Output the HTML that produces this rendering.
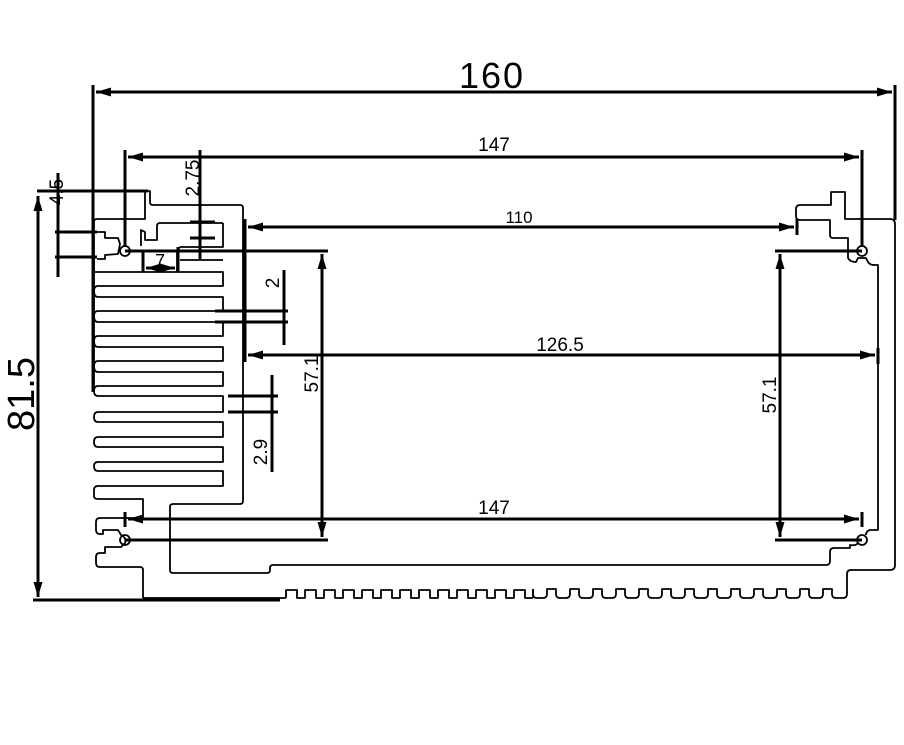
<!DOCTYPE html>
<html><head><meta charset="utf-8"><style>
html,body{margin:0;padding:0;background:#fff;}
svg{display:block}
text{font-family:"Liberation Sans",sans-serif;fill:#000}
</style></head><body>
<svg width="904" height="745" viewBox="0 0 904 745" xmlns="http://www.w3.org/2000/svg">
<defs>
<marker id="a" viewBox="0 0 10 6" refX="10" refY="3" markerWidth="5" markerHeight="3" orient="auto-start-reverse"><path d="M0,0L10,3L0,6z" fill="#000"/></marker>
</defs>
<g fill="none" stroke="#000" stroke-width="1.8" stroke-linejoin="round">
<path d="M94,392 V222 Q94,219 97,219 H145 V191 H150 V202 Q150,205 153,205 H240 Q243,205 243,208 V501 Q243,504 240,504 H173 Q170,504 170,507 V570 Q170,573 173,573 H267 Q270,573 270,570 V568 Q270,565 273,565 H826 Q830,565 830,561 V552 Q830,548 834,548 H850 V545 Q856,546 858,543"/>
<path d="M223,223 H160 Q157,223 157,226 V240 H145 V232 L141,230 L141,246"/>
<path d="M223,223 V247 H180 L177,251 V272"/>
<path d="M180,260 H223"/>
<path d="M97,232 H105 V238 H118 L120,244 L118,254 L105,255 V259 H97"/>
<path d="M94,259 V272 H223 V286 H98 Q94,286 94,291 Q94,297 98,297 H223 V311 H98 Q94,311 94,316 Q94,322 98,322 H223 V336 H98 Q94,336 94,341 Q94,347 98,347 H223 V361 H98 Q94,361 94,366 Q94,372 98,372 H223 V386 H98 Q94,386 94,391 Q94,396 98,396 H223 V412 H98 Q94,412 94,417 Q94,422 98,422 H223 V437 H98 Q94,437 94,442 Q94,447 98,447 H223 V462 H98 Q94,462 94,466 Q94,471 98,471 H223 V486 H98 Q94,486 94,490 V496 Q94,499 98,499 H143 V518"/>
<path d="M143,518 H100 Q96,518 96,522 V530 Q96,534 100,534 H103 V530 H118 L121,535 Q127,538 125,543 L121,547 H105 V553 H100 Q96,553 96,557 V563 Q96,567 100,567 H140 Q143,567 143,570 V598"/>
<path d="M143,598 H286"/>
<path d="M286,598 V590 H297 V598 H305 V590 H316 V598 H324 V590 H335 V598 H343 V590 H354 V598 H362 V590 H373 V598 H381 V590 H392 V598 H400 V590 H411 V598 H419 V590 H430 V598 H438 V590 H449 V598 H457 V590 H468 V598 H476 V590 H487 V598 H495 V590 H506 V598 H514 V590 H525 V598 H533"/>
<path d="M533,589 V594 Q533,598 537,598 H543 Q547,598 547,594 V589 H556 V594 Q556,598 560,598 H566 Q570,598 570,594 V589 H579 V594 Q579,598 583,598 H589 Q593,598 593,594 V589 H602 V594 Q602,598 606,598 H612 Q616,598 616,594 V589 H625 V594 Q625,598 629,598 H635 Q639,598 639,594 V589 H648 V594 Q648,598 652,598 H658 Q662,598 662,594 V589 H671 V594 Q671,598 675,598 H681 Q685,598 685,594 V589 H694 V594 Q694,598 698,598 H704 Q708,598 708,594 V589 H717 V594 Q717,598 721,598 H727 Q731,598 731,594 V589 H740 V594 Q740,598 744,598 H750 Q754,598 754,594 V589 H763 V594 Q763,598 767,598 H773 Q777,598 777,594 V589 H786 V594 Q786,598 790,598 H796 Q800,598 800,594 V589 H809 V594 Q809,598 813,598 H819 Q823,598 823,594 V589 H832 V594 Q832,598 836,598 H843 Q847,598 847,594 V574 Q847,570 851,570 H890 Q895,570 895,565 V224 Q895,219 890,219 H845 V192 H831 V205 H800 Q796,205 796,209 V216 Q796,220 800,220 H830 V235 Q830,238 833,238 H848 V258 Q850,262 856,262 L858,258 L866,258 L868,262 Q870,265 874,265 H878 V530 H870 Q866,531 866,535"/>
<path d="M533,589 V598"/>
</g>
<g fill="none" stroke="#000" stroke-width="1.8">
<circle cx="125" cy="251" r="5"/><circle cx="862" cy="251" r="5"/>
<circle cx="862" cy="540" r="5"/><circle cx="125" cy="540" r="5"/>
</g>
<g stroke="#000" stroke-width="3" fill="none">
<line x1="93" y1="85" x2="93" y2="392"/>
<line x1="895" y1="85" x2="895" y2="220"/>
<line x1="96" y1="92" x2="892" y2="92" marker-start="url(#a)" marker-end="url(#a)"/>
<line x1="125" y1="150" x2="125" y2="246"/>
<line x1="862" y1="150" x2="862" y2="246"/>
<line x1="128" y1="157" x2="859" y2="157" marker-start="url(#a)" marker-end="url(#a)"/>
<line x1="245" y1="219" x2="245" y2="362"/>
<line x1="797" y1="219" x2="797" y2="235"/>
<line x1="248" y1="227" x2="794" y2="227" marker-start="url(#a)" marker-end="url(#a)"/>
<line x1="878" y1="348" x2="878" y2="364"/>
<line x1="248" y1="355" x2="875" y2="355" marker-start="url(#a)" marker-end="url(#a)"/>
<line x1="125" y1="512" x2="125" y2="527"/>
<line x1="862" y1="512" x2="862" y2="527"/>
<line x1="128" y1="519" x2="859" y2="519" marker-start="url(#a)" marker-end="url(#a)"/>
<line x1="125" y1="251" x2="328" y2="251"/>
<line x1="125" y1="540" x2="328" y2="540"/>
<line x1="322" y1="254" x2="322" y2="537" marker-start="url(#a)" marker-end="url(#a)"/>
<line x1="775" y1="251" x2="862" y2="251"/>
<line x1="775" y1="540" x2="862" y2="540"/>
<line x1="780" y1="254" x2="780" y2="537" marker-start="url(#a)" marker-end="url(#a)"/>
<line x1="33" y1="600" x2="280" y2="600"/>
<line x1="37" y1="191" x2="148" y2="191"/>
<line x1="38" y1="196" x2="38" y2="597" marker-start="url(#a)" marker-end="url(#a)"/>
<line x1="55" y1="232" x2="97" y2="232"/>
<line x1="55" y1="257" x2="97" y2="257"/>
<line x1="58" y1="173" x2="58" y2="277"/>
<line x1="200" y1="150" x2="200" y2="259"/>
<line x1="190" y1="222" x2="215" y2="222"/>
<line x1="190" y1="238" x2="215" y2="238"/>
<line x1="143" y1="250" x2="143" y2="272"/>
<line x1="178" y1="247" x2="178" y2="272"/>
<line x1="146" y1="268" x2="175" y2="268" marker-start="url(#a)" marker-end="url(#a)"/>
<line x1="215" y1="311" x2="288" y2="311"/>
<line x1="215" y1="322" x2="288" y2="322"/>
<line x1="284" y1="270" x2="284" y2="345"/>
<line x1="228" y1="396" x2="278" y2="396"/>
<line x1="228" y1="412" x2="278" y2="412"/>
<line x1="272" y1="375" x2="272" y2="472"/>
</g>
<text x="492" y="88" font-size="36" text-anchor="middle" letter-spacing="2">160</text>
<text x="494" y="151" font-size="19" text-anchor="middle">147</text>
<text x="519" y="223" font-size="17" text-anchor="middle">110</text>
<text x="560" y="351" font-size="19" text-anchor="middle">126.5</text>
<text x="494" y="514" font-size="19" text-anchor="middle">147</text>
<text x="160" y="267" font-size="18" text-anchor="middle">7</text>
<text transform="translate(318,374) rotate(-90)" font-size="19" text-anchor="middle">57.1</text>
<text transform="translate(776,395) rotate(-90)" font-size="19" text-anchor="middle">57.1</text>
<text transform="translate(34,394) rotate(-90)" font-size="38" text-anchor="middle">81.5</text>
<text transform="translate(63,192) rotate(-90)" font-size="19" text-anchor="middle">4.5</text>
<text transform="translate(199,178) rotate(-90)" font-size="19" text-anchor="middle">2.75</text>
<text transform="translate(279,283) rotate(-90)" font-size="19" text-anchor="middle">2</text>
<text transform="translate(267,452) rotate(-90)" font-size="19" text-anchor="middle">2.9</text>
</svg>
</body></html>
